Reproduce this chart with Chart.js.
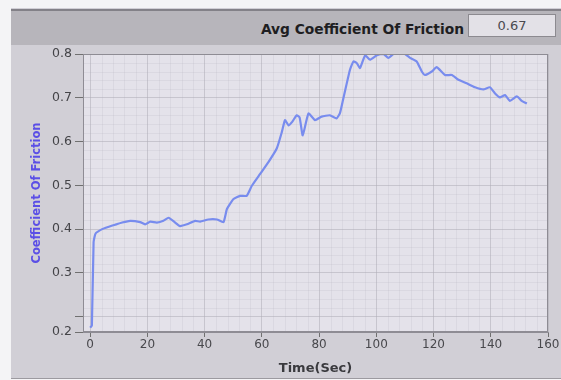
<!DOCTYPE html>
<html>
<head>
<meta charset="utf-8">
<script src="https://cdn.jsdelivr.net/npm/chart.js@4.4.1/dist/chart.umd.min.js"></script>
<style>
  html, body { margin: 0; padding: 0; background: #f4f4f6; }
  #wrap { position: relative; width: 561px; height: 380px; overflow: hidden; }
  #panel { position: absolute; left: 11px; top: 8px; width: 550px; height: 370px;
           background: #d1cfd6; border-bottom: 1px solid #9c9aa0; }
  #header { position: absolute; left: 11px; top: 9px; width: 550px; height: 34px;
            background: #b7b5bb; border-top: 2px solid #838188; }
  #avgLabel { position: absolute; right: 97px; top: 21px; font: bold 13.8px "DejaVu Sans", sans-serif;
              color: #1e1e22; white-space: nowrap; }
  #avgBox { position: absolute; left: 468px; top: 14px; width: 88px; height: 23px;
            background: #e3e1e7; border: 1px solid #8c8a90; box-sizing: border-box;
            font: 13px "DejaVu Sans", sans-serif; color: #4a4a50; text-align: center; line-height: 21px; }
  #c { position: absolute; left: 0; top: 0; }
</style>
</head>
<body>
<div id="wrap">
  <div id="panel"></div>
  <div id="header"></div>
  <div id="avgLabel">Avg Coefficient Of Friction</div>
  <div id="avgBox">0.67</div>
  <canvas id="c" width="561" height="380"></canvas>
</div>
<script>
// Friction test trace: time (s) vs coefficient of friction
const timeSec = [0, 0.6, 1.2, 1.9, 4.2, 6.3, 8.7, 11.2, 14.0, 17.5, 19.2, 21.0, 23.3, 25.6, 27.4,
  29.7, 31.4, 33.8, 36.7, 38.4, 41.3, 44.3, 46.6, 47.8, 50.1, 52.4, 54.7, 56.5, 59.4, 62.3,
  65.2, 67.0, 68.1, 69.3, 70.6, 72.2, 73.2, 74.3, 76.3, 78.6, 80.9, 83.8, 86.1, 87.3, 88.5,
  90.8, 92.0, 93.2, 94.3, 96.1, 97.8, 100.2, 102.5, 104.2, 106.0, 108.3, 110.0, 111.8, 114.1,
  115.9, 117.0, 119.4, 121.1, 124.0, 126.4, 128.7, 131.6, 134.5, 137.4, 139.7, 141.5, 143.2,
  145.0, 146.7, 149.1, 150.8, 152.6];
const frictionCoef = [0.175, 0.18, 0.37, 0.39, 0.40, 0.405, 0.41, 0.415, 0.419, 0.416, 0.411, 0.417, 0.415, 0.419, 0.426,
  0.415, 0.407, 0.411, 0.419, 0.417, 0.422, 0.422, 0.416, 0.446, 0.469, 0.476, 0.476, 0.499, 0.526, 0.553,
  0.584, 0.622, 0.649, 0.637, 0.645, 0.66, 0.655, 0.614, 0.664, 0.649, 0.657, 0.66, 0.653, 0.665, 0.699,
  0.764, 0.783, 0.779, 0.768, 0.797, 0.787, 0.797, 0.8, 0.791, 0.8, 0.8, 0.8, 0.791, 0.783,
  0.76, 0.752, 0.76, 0.77, 0.752, 0.752, 0.741, 0.733, 0.724, 0.719, 0.724, 0.71, 0.701,
  0.706, 0.693, 0.703, 0.693, 0.687];

// Axis ticks
const xTickValues = [0, 20, 40, 60, 80, 100, 120, 140, 160];
const xTickLabels = ['0', '20', '40', '60', '80', '100', '120', '140', '160'];
const yTickValues = [0.165, 0.2, 0.3, 0.4, 0.5, 0.6, 0.7, 0.8];
const yTickLabels = ['0.2', '', '0.3', '0.4', '0.5', '0.6', '0.7', '0.8'];
const xRange = [-2.5, 160];
const yRange = [0.165, 0.8];

const points = timeSec.map((t, i) => ({ x: t, y: frictionCoef[i] }));

// Plot background, fine minor grid and frame
const plotFrame = {
  id: 'plotFrame',
  beforeDraw(chart) {
    const { ctx, chartArea: a } = chart;
    ctx.save();
    ctx.fillStyle = '#e4e2ea';
    ctx.fillRect(a.left, a.top, a.right - a.left, a.bottom - a.top);
    ctx.restore();
  },
  beforeDatasetsDraw(chart) {
    const { ctx, chartArea: a, scales: { x, y } } = chart;
    ctx.save();
    ctx.strokeStyle = 'rgba(170,168,180,0.16)';
    ctx.lineWidth = 1;
    ctx.beginPath();
    for (let v = 0; v <= 160; v += 4) {
      if (v % 20 === 0) continue;
      const px = Math.round(x.getPixelForValue(v)) + 0.5;
      ctx.moveTo(px, a.top); ctx.lineTo(px, a.bottom);
    }
    for (let v = 0.2; v < 0.8; v += 0.02) {
      const k = Math.round(v * 100);
      if (k % 10 === 0) continue;
      const py = Math.round(y.getPixelForValue(v)) + 0.5;
      ctx.moveTo(a.left, py); ctx.lineTo(a.right, py);
    }
    ctx.stroke();
    ctx.restore();
  },
  afterDatasetsDraw(chart) {
    const { ctx, chartArea: a } = chart;
    ctx.save();
    ctx.strokeStyle = '#8e8c94';
    ctx.lineWidth = 1;
    ctx.strokeRect(a.left + 0.5, a.top + 0.5, a.right - a.left - 1, a.bottom - a.top - 1);
    ctx.restore();
  }
};

new Chart(document.getElementById('c'), {
  type: 'line',
  data: {
    datasets: [{
      data: points,
      borderColor: '#788cee',
      borderWidth: 2.2,
      pointRadius: 0,
      tension: 0.15,
      fill: false
    }]
  },
  options: {
    responsive: false,
    animation: false,
    layout: { padding: { left: 0, top: 54, right: 13, bottom: 0 } },
    plugins: { legend: { display: false }, tooltip: { enabled: false } },
    scales: {
      x: {
        type: 'linear',
        min: xRange[0],
        max: xRange[1],
        afterBuildTicks(axis) { axis.ticks = xTickValues.map(v => ({ value: v })); },
        afterFit(axis) { axis.height = 48; },
        grid: { color: 'rgba(175,173,183,0.55)', tickLength: 5, tickColor: '#707070', drawTicks: true },
        border: { display: true, color: '#8e8c94' },
        ticks: {
          autoSkip: false, maxRotation: 0, padding: 1,
          color: '#48484c',
          font: { family: 'DejaVu Sans', size: 12 },
          callback: (v) => xTickLabels[xTickValues.indexOf(v)] ?? ''
        },
        title: {
          display: true, text: 'Time(Sec)', color: '#3a3a3e',
          font: { family: 'DejaVu Sans', size: 13, weight: 'bold' },
          padding: { top: 0, bottom: 4 }
        }
      },
      y: {
        type: 'linear',
        min: yRange[0],
        max: yRange[1],
        afterBuildTicks(axis) { axis.ticks = yTickValues.map(v => ({ value: v })); },
        afterFit(axis) { axis.width = 83; },
        grid: { color: 'rgba(175,173,183,0.55)', tickLength: 8, tickColor: '#707070' },
        border: { display: true, color: '#8e8c94' },
        ticks: {
          autoSkip: false, padding: 3,
          color: '#444448',
          font: { family: 'DejaVu Sans', size: 12.5 },
          callback: (v) => yTickLabels[yTickValues.indexOf(v)] ?? ''
        },
        title: {
          display: true, text: 'Coefficient Of Friction', color: '#5b4fe6',
          font: { family: 'DejaVu Sans', size: 11.5, weight: 'bold' },
          padding: { top: 30, bottom: 0 }
        }
      }
    }
  },
  plugins: [plotFrame]
});
</script>
</body>
</html>
